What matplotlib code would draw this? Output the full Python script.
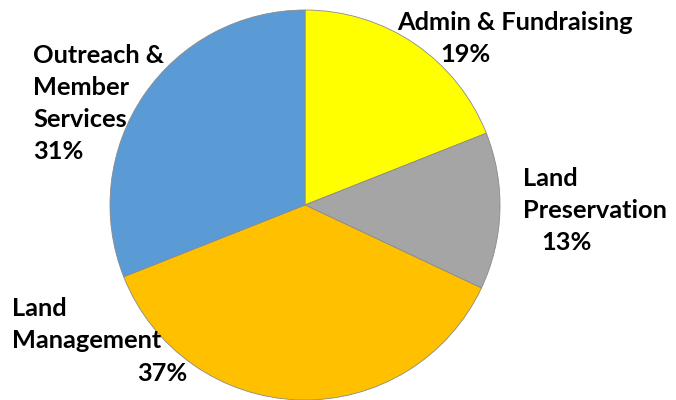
import matplotlib.pyplot as plt

# Data (clockwise from 12 o'clock)
categories = ['Admin & Fundraising', 'Land Preservation', 'Land Management',
              'Outreach & Member Services']
shares = [19, 13, 37, 31]
colors = ['#FFFF00', '#A5A5A5', '#FFC000', '#5B9BD5']

# label lines: (text, x px, baseline y px from top)
label_lines = [
    ('Admin & Fundraising', 397, 30), ('19%', 440, 62),
    ('Land', 523, 186), ('Preservation', 523, 218), ('13%', 541, 250),
    ('Land', 12, 316), ('Management', 12, 348), ('37%', 137, 381),
    ('Outreach &', 33, 63), ('Member', 33, 95), ('Services', 33, 127), ('31%', 33, 159),
]

W, H = 676, 400
fig = plt.figure(figsize=(W / 100, H / 100), dpi=100)
ax = fig.add_axes([0, 0, 1, 1])

ax.pie(shares, colors=colors, startangle=90, counterclock=False,
       center=(305, H - 205), radius=195, frame=True,
       wedgeprops=dict(edgecolor='#8a8a8a', linewidth=0.6))
ax.set_xlim(0, W)
ax.set_ylim(0, H)
ax.set_aspect('equal')
ax.axis('off')

for txt, x, y in label_lines:
    ax.text(x, H - y, txt, ha='left', va='baseline', fontsize=18.3,
            fontweight='bold', family='Lato', color='black')

plt.savefig('out.png', dpi=100)
